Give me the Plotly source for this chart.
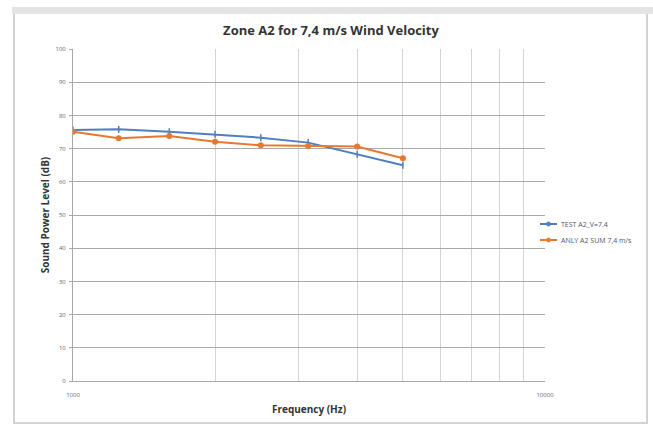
import plotly.graph_objects as go

# Third-octave band centre frequencies (Hz)
frequencies = [1000, 1250, 1600, 2000, 2500, 3150, 4000, 5000]

# Sound power levels (dB)
test_a2 = [75.6, 75.8, 75.1, 74.3, 73.3, 71.8, 68.3, 65.0]
anly_a2 = [75.1, 73.1, 73.8, 72.1, 71.0, 70.8, 70.6, 67.1]

series_names = ["TEST A2_V=7.4", "ANLY A2 SUM 7,4 m/s"]

x_grid = [1000, 2000, 3000, 4000, 5000, 6000, 7000, 8000, 9000, 10000]
x_labels = ["1000", "", "", "", "", "", "", "", "", "10000"]
y_ticks = list(range(0, 101, 10))

BLUE = "#4f7fc0"
ORANGE = "#e6782f"

W, H = 653, 424
L, R, T, B = 73, 108, 49, 43
pw, ph = W - L - R, H - T - B


def px(x):
    return (x - L) / pw


def py(y):
    return (H - B - y) / ph


fig = go.Figure()
fig.add_trace(go.Scatter(
    x=frequencies, y=test_a2, name=series_names[0], mode="lines+markers",
    line=dict(color=BLUE, width=2),
    marker=dict(symbol="line-ns", size=5, line=dict(color=BLUE, width=1.5)),
    showlegend=False,
))
fig.add_trace(go.Scatter(
    x=frequencies, y=anly_a2, name=series_names[1], mode="lines+markers",
    line=dict(color=ORANGE, width=2),
    marker=dict(symbol="circle", size=6, color=ORANGE),
    showlegend=False,
))

shapes = [
    # outer chart frame
    dict(type="rect", xref="paper", yref="paper",
         x0=px(14), x1=px(647), y0=py(423), y1=py(8),
         line=dict(color="#d2d2d2", width=2), fillcolor="rgba(0,0,0,0)", layer="below"),
    # grey band along the top
    dict(type="rect", xref="paper", yref="paper",
         x0=px(12), x1=px(653), y0=py(14), y1=py(7),
         line=dict(width=0), fillcolor="#e4e4e4", layer="below"),
]
annotations = []

# compact legend to the right of the plot
legend_rows = [(224, BLUE, series_names[0]), (240, ORANGE, series_names[1])]
for row_y, color, label in legend_rows:
    shapes.append(dict(type="line", xref="paper", yref="paper",
                       x0=px(540), x1=px(557), y0=py(row_y), y1=py(row_y),
                       line=dict(color=color, width=2)))
    shapes.append(dict(type="circle", xref="paper", yref="paper",
                       x0=px(546.5), x1=px(550.5), y0=py(row_y + 2), y1=py(row_y - 2),
                       line=dict(color=color, width=1), fillcolor=color))
    annotations.append(dict(text=label, xref="paper", yref="paper",
                            x=px(559), y=py(row_y), xanchor="left", yanchor="middle",
                            showarrow=False, font=dict(size=7, color="#555")))

fig.update_layout(
    width=W, height=H,
    margin=dict(l=L, r=R, t=T, b=B),
    paper_bgcolor="white", plot_bgcolor="white",
    font=dict(family="Open Sans, Liberation Sans, sans-serif", color="#444"),
    title=dict(text="<b>Zone A2 for 7,4 m/s Wind Velocity</b>",
               x=331 / W, xanchor="center", y=1 - 30 / H, yanchor="middle",
               font=dict(size=13, color="#333")),
    showlegend=False,
    shapes=shapes,
    annotations=annotations,
)

fig.update_xaxes(
    type="log", range=[3, 4],
    tickmode="array", tickvals=x_grid, ticktext=x_labels,
    showgrid=True, gridcolor="#d4d4d4", gridwidth=1,
    showline=True, linecolor="#a8a8a8", linewidth=1,
    ticks="", tickfont=dict(size=6, color="#666"), ticklabelstandoff=8,
    title=dict(text="<b>Frequency (Hz)</b>", font=dict(size=10, color="#333"), standoff=7),
    zeroline=False,
)
fig.update_yaxes(
    range=[0, 100], tickmode="array", tickvals=y_ticks,
    showgrid=True, gridcolor="#a9a9a9", gridwidth=1.2,
    showline=True, linecolor="#a8a8a8", linewidth=1,
    ticks="outside", ticklen=3, tickcolor="#a8a8a8",
    tickfont=dict(size=6, color="#666"), ticklabelstandoff=2,
    title=dict(text="<b>Sound Power Level (dB)</b>", font=dict(size=10, color="#333"), standoff=4),
    zeroline=False,
)

fig.write_html("out.html")
